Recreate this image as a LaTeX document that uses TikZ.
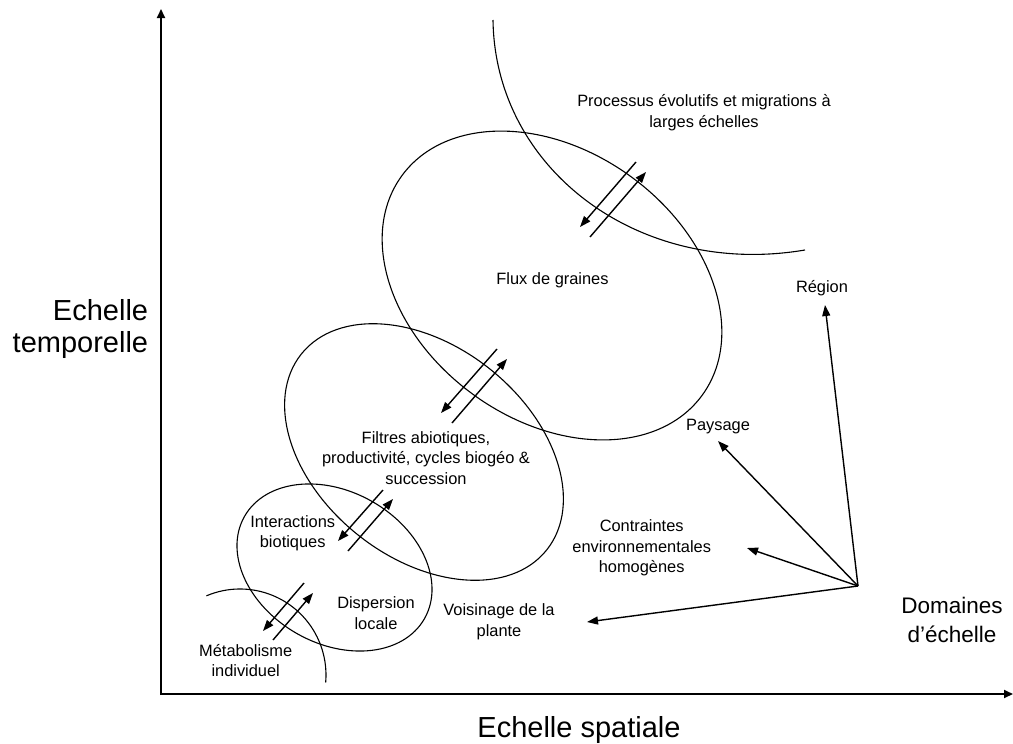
\documentclass[tikz,border=0pt]{standalone}
\usepackage{fontspec}
\setmainfont{Liberation Sans}
\usetikzlibrary{arrows.meta}
\begin{document}
\begin{tikzpicture}[x=1pt,y=1pt,
  curve/.style={line width=1.1pt},
  flow/.style={line width=1.4pt,-{Triangle[length=11pt,width=8pt]}},
  axis/.style={line width=2pt,-{Triangle[length=9pt,width=8pt]}},
  lbl/.style={font=\fontsize{16.4}{20.5}\selectfont,align=center,inner sep=0pt},
  biglbl/.style={font=\fontsize{29}{32}\selectfont,inner sep=0pt},
  domlbl/.style={font=\fontsize{22.5}{29}\selectfont,align=center,inner sep=0pt}]
\useasboundingbox (0,0) rectangle (1013,-744);

% axes
\coordinate (O) at (161,-694);
\coordinate (ytop) at (161,-9);
\coordinate (xend) at (1013,-694);
\draw[axis] (161,-695) -- (ytop);
\draw[axis] (160,-694) -- (xend);

% scale domains
\draw[curve, rotate around={-36.2:(552,-285.5)}] (552,-285.5) ellipse[x radius=186, y radius=134.5];
\draw[curve, rotate around={-38.6:(424,-452)}] (424,-452) ellipse[x radius=157, y radius=106];
\draw[curve, rotate around={-29.6:(334.5,-567.5)}] (334.5,-567.5) ellipse[x radius=103.5, y radius=76];
\draw[curve] (240,-675) ++(113:86) arc[start angle=113, end angle=-5, radius=86];
\draw[curve] (493,-20) .. controls (495,-170) and (640,-278) .. (805,-250);

% exchanges between neighbouring domains
\draw[flow] (636,-162) -- (580,-227);
\draw[flow] (590,-237) -- (646,-172);
\draw[flow] (497,-349) -- (441,-413);
\draw[flow] (452,-423) -- (507,-359);
\draw[flow] (383,-490) -- (338,-541);
\draw[flow] (348,-551) -- (393,-499);
\draw[flow] (304,-583) -- (263,-631);
\draw[flow] (273,-640) -- (313,-593);

% labels inside the domains
\node[lbl] (proc) at (704,-112.5) {Processus évolutifs et migrations à\\larges échelles};
\node[lbl] (flux) at (552.5,-280) {Flux de graines};
\node[lbl] (filt) at (426,-458) {Filtres abiotiques,\\productivité, cycles biogéo \&\\succession};
\node[lbl] (inter) at (292.7,-533.5) {Interactions\\biotiques};
\node[lbl] (disp) at (376,-613) {Dispersion\\locale};
\node[lbl] (meta) at (245.7,-660.7) {Métabolisme\\individuel};

% levels of scale
\node[lbl] (reg) at (822,-288) {Région};
\node[lbl] (pays) at (718,-427) {Paysage};
\node[lbl] (contr) at (641.7,-548) {Contraintes\\environnementales\\homogènes};
\node[lbl] (vois) at (499,-622) {Voisinage de la\\plante};

% axis titles
\node[biglbl, align=right, anchor=east] (ytitle) at (148.3,-329) {Echelle\\temporelle};
\node[biglbl, anchor=base] (xtitle) at (579,-737) {Echelle spatiale};
\node[domlbl] (dtitle) at (952,-620) {Domaines\\d’échelle};

% arrows from the scale domains to their levels
\coordinate (dom) at (858,-586);
\coordinate (tReg) at (825,-305);
\coordinate (tPays) at (718,-441);
\coordinate (tContr) at (747,-548);
\coordinate (tVois) at (587,-622);
\draw[flow] (dom) -- (tReg);
\draw[flow] (dom) -- (tPays);
\draw[flow] (dom) -- (tContr);
\draw[flow] (dom) -- (tVois);
\end{tikzpicture}
\end{document}
